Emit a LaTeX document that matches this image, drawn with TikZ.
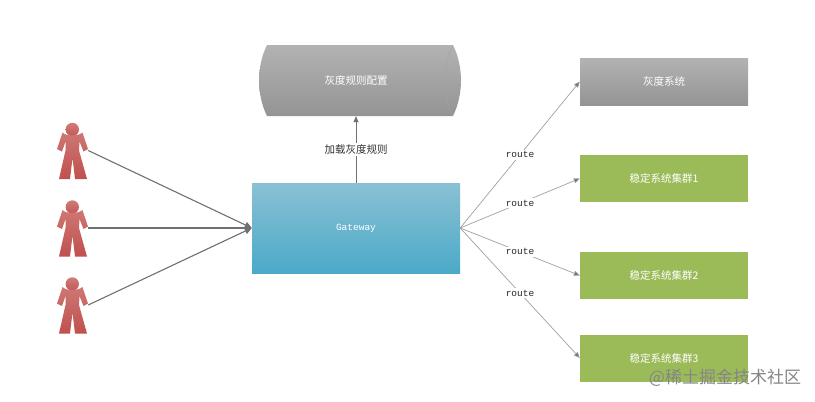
\documentclass[tikz,border=0pt]{standalone}
\usepackage{fontspec}
\setmainfont{Noto Sans CJK SC}
\setmonofont{Liberation Mono}
\usetikzlibrary{arrows.meta}
\definecolor{usercol}{HTML}{C0504D}
\definecolor{greenbox}{HTML}{9BBB59}
\definecolor{linegray}{HTML}{707070}
\definecolor{routegray}{HTML}{A0A0A0}
\definecolor{gatetop}{HTML}{8AC0D3}
\definecolor{gatebot}{HTML}{4BAAC8}
\tikzset{
  grayfill/.style={top color=black!30,bottom color=black!42,draw=none},
  cntext/.style={font=\fontsize{10.5}{12}\selectfont},
  graybox/.style={grayfill,text=white,minimum width=168pt,minimum height=47pt,inner sep=0pt,cntext},
  greenbox/.style={fill=greenbox,text=white,minimum width=168pt,minimum height=47pt,inner sep=0pt,cntext},
  monolabel/.style={font=\ttfamily\fontsize{9.5}{11}\selectfont},
  userline/.style={draw=linegray,line width=1.1pt,-{Triangle[length=7pt,width=6.5pt]}},
  routeline/.style={draw=routegray,line width=0.7pt,-{Triangle[length=6pt,width=5pt,fill=linegray]}}
}
\begin{document}
\begin{tikzpicture}[x=1pt,y=-1pt]
  \useasboundingbox (0,0) rectangle (815,402);
  % entry
  \node[top color=gatetop,bottom color=gatebot,minimum width=208pt,minimum height=90pt,inner sep=0pt,text=white,monolabel] (gateway) at (356,228) {Gateway};
  % rules
  \shade[grayfill] (267,45)--(453,45) .. controls (458,55) and (461,68) .. (461,80.5)
    .. controls (461,93) and (458,106) .. (453,116)--(267,116)
    .. controls (262,106) and (259,93) .. (259,80.5) .. controls (259,68) and (262,55) .. (267,45)--cycle;
  \draw[black!36,line width=0.4pt] (453,45) .. controls (447,58) and (445,68) .. (445,80.5) .. controls (445,93) and (447,106) .. (453,116);
  \node[minimum width=194pt,minimum height=71pt,inner sep=0pt,text=white,cntext] (rules) at (356,80.5) {灰度规则配置};
  \draw[draw=linegray,line width=0.7pt,-{Triangle[length=6pt,width=5pt]}] (gateway.north)--(rules.south)
    node[pos=0.5,fill=white,inner sep=1.5pt,text=black!80,cntext] (loadlabel) {加载灰度规则};
  % targets
  \node[graybox] (graysys) at (664,81.5) {灰度系统};
  \node[greenbox] (stable1) at (664,178.5) {稳定系统集群1};
  \node[greenbox] (stable2) at (664,275.5) {稳定系统集群2};
  \node[greenbox] (stable3) at (664,358) {稳定系统集群3};
  \foreach \target in {graysys,stable1,stable2,stable3}
    \draw[routeline] (gateway.east)--(\target.west)
      node[midway,fill=white,inner sep=2pt,text=black!85,monolabel] (route\target) {route};
  % users
  \foreach \i/\y in {1/150.5,2/228,3/305}{
    \begin{scope}[shift={(72,\y)}]
      \shade[top color=usercol!75,bottom color=usercol!95] (0.3,-21) circle (6.7);
      \shade[top color=usercol!78,bottom color=usercol] (-9.5,-18) .. controls (-6,-14) and (6,-14) .. (10.5,-18)
        --(16,-1.5)--(11.5,1)--(7.5,-9)--(7,0)--(15,28.5)--(3,28.5)--(0.5,7.5)--(-2,28.5)--(-13,28.5)--(-6.5,0)--(-6.5,-9)--(-10,1)--(-15,-1.5)--cycle;
      \node[minimum width=32pt,minimum height=57pt,inner sep=0pt] (user\i) at (0,0) {};
    \end{scope}
    \draw[userline] (user\i.east)--(gateway.west);
  }
  % site mark
  \node[text=black!48,font=\fontsize{17}{19}\selectfont,inner sep=0pt] (mark) at (725,378) {@稀土掘金技术社区};
\end{tikzpicture}
\end{document}
